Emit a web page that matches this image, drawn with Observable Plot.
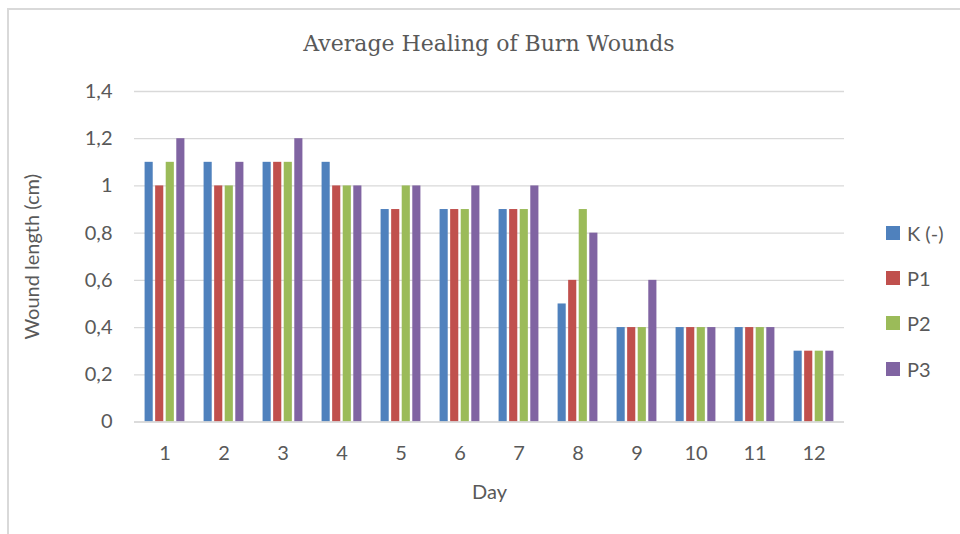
<!DOCTYPE html>
<html>
<head>
<meta charset="utf-8">
<script src="https://cdn.jsdelivr.net/npm/d3@7"></script>
<script src="https://cdn.jsdelivr.net/npm/@observablehq/plot@0.6"></script>
<style>
  html, body { margin: 0; padding: 0; background: #fff; }
  #wrap { position: relative; width: 960px; height: 534px; overflow: hidden; }
  #frame { position: absolute; left: 7px; top: 8px; width: 1200px; height: 800px;
           border-left: 2px solid #d9d9d9; border-top: 2px solid #d9d9d9; }
  #title { position: absolute; left: 0; width: 978px; top: 31px; text-align: center;
           font-family: "DejaVu Serif", serif; font-size: 22px; color: #595959; }
  #legend { position: absolute; left: 886px; top: 210px; font-family: Lato, sans-serif;
            font-size: 20px; color: #595959; }
  .item { display: flex; align-items: center; height: 45.3px; }
  .sw { width: 14px; height: 14px; margin-right: 7px; }
  #chart { position: absolute; left: 0; top: 0; }
</style>
</head>
<body>
<div id="wrap">
  <div id="frame"></div>
  <div id="chart"></div>
  <div id="title"></div>
  <div id="legend"></div>
</div>
<script>
const titleText = "Average Healing of Burn Wounds";
const days = ["1","2","3","4","5","6","7","8","9","10","11","12"];
const series = ["K (-)", "P1", "P2", "P3"];
const colors = ["#4F81BD", "#C0504D", "#9BBB59", "#8064A2"];
const kNeg = [1.1, 1.1, 1.1, 1.1, 0.9, 0.9, 0.9, 0.5, 0.4, 0.4, 0.4, 0.3];
const p1   = [1.0, 1.0, 1.1, 1.0, 0.9, 0.9, 0.9, 0.6, 0.4, 0.4, 0.4, 0.3];
const p2   = [1.1, 1.0, 1.1, 1.0, 1.0, 0.9, 0.9, 0.9, 0.4, 0.4, 0.4, 0.3];
const p3   = [1.2, 1.1, 1.2, 1.0, 1.0, 1.0, 1.0, 0.8, 0.6, 0.4, 0.4, 0.3];
const values = [kNeg, p1, p2, p3];
const yTicks = [0, 0.2, 0.4, 0.6, 0.8, 1.0, 1.2, 1.4];
const yLabel = "Wound length (cm)";
const xLabel = "Day";

const rows = [];
series.forEach((s, i) => days.forEach((d, j) => rows.push({day: d, series: s, idx: i, value: values[i][j]})));

const W = 960, H = 534;
const mL = 134, mR = 116, mT = 91, mB = 112.5;
const band = (W - mL - mR) / days.length;
const barW = 8.3, groupW = 40;
const sStep = (groupW - barW) / (series.length - 1);
const off0 = (band - groupW) / 2;

const barMarks = series.map((s, i) => {
  const il = off0 + i * sStep;
  return Plot.barY(rows.filter(r => r.idx === i), {
    x: "day", y: "value", fill: colors[i],
    insetLeft: il, insetRight: band - il - barW
  });
});

const fmt = d => String(+d.toFixed(1)).replace(".", ",");

const chart = Plot.plot({
  width: W, height: H,
  marginLeft: mL, marginRight: mR, marginTop: mT, marginBottom: mB,
  style: {fontFamily: "Lato, sans-serif", fontSize: "20px", color: "#595959", background: "transparent"},
  x: {domain: days, padding: 0, tickSize: 0, tickPadding: 24, label: xLabel, labelAnchor: "center", labelOffset: 77, labelArrow: "none"},
  y: {domain: [0, 1.4], ticks: yTicks, tickFormat: fmt, tickSize: 0, tickPadding: 22, label: yLabel, labelAnchor: "center", labelOffset: 110, labelArrow: "none"},
  marks: [
    Plot.gridY(yTicks, {stroke: "#d9d9d9", strokeOpacity: 1, strokeWidth: 1.3}),
    ...barMarks,
    Plot.ruleY([0], {stroke: "#d9d9d9", strokeWidth: 1.5})
  ]
});
document.getElementById("chart").appendChild(chart);
document.getElementById("title").textContent = titleText;
const leg = document.getElementById("legend");
series.forEach((s, i) => {
  const it = document.createElement("div");
  it.className = "item";
  const sw = document.createElement("div");
  sw.className = "sw"; sw.style.background = colors[i];
  const t = document.createElement("span"); t.textContent = s;
  it.appendChild(sw); it.appendChild(t); leg.appendChild(it);
});
</script>
</body>
</html>
